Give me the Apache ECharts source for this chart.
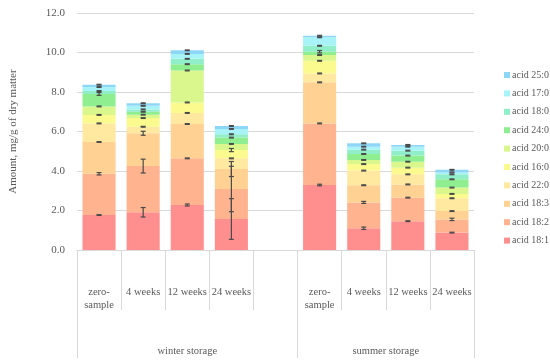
<!DOCTYPE html>
<html><head><meta charset="utf-8">
<script src="https://cdn.jsdelivr.net/npm/echarts@6/dist/echarts.min.js"></script>
<style>html,body{margin:0;padding:0;background:#fff}#c{width:550px;height:363px}</style>
</head><body><div id="c"></div>
<script>
// categories (index 4 is the empty spacer between the two storage groups)
const categories = ['zero-\nsample', '4 weeks', '12 weeks', '24 weeks', '', 'zero-\nsample', '4 weeks', '12 weeks', '24 weeks'];
const groupLabels = ['winter storage', 'summer storage'];
const yTicks = [0, 2, 4, 6, 8, 10, 12];

// series values (bottom to top of the stack), '-' = spacer
const acid18_1 = [1.77, 1.91, 2.28, 1.57, '-', 3.29, 1.10, 1.46, 0.88];
const acid18_2 = [2.09, 2.34, 2.36, 1.52, '-', 3.12, 1.31, 1.19, 0.67];
const acid18_3 = [1.61, 1.66, 1.74, 1.01, '-', 2.08, 0.87, 0.67, 0.42];
const acid22_0 = [0.94, 0.33, 0.56, 0.54, '-', 0.45, 0.74, 0.51, 0.65];
const acid16_0 = [0.43, 0.44, 0.53, 0.42, '-', 0.64, 0.33, 0.34, 0.22];
const acid20_0 = [0.43, 0.17, 1.62, 0.31, '-', 0.29, 0.21, 0.30, 0.32];
const acid24_0 = [0.63, 0.15, 0.32, 0.32, '-', 0.17, 0.30, 0.31, 0.42];
const acid18_0 = [0.15, 0.12, 0.27, 0.17, '-', 0.30, 0.22, 0.25, 0.25];
const acid17_0 = [0.20, 0.18, 0.25, 0.27, '-', 0.43, 0.15, 0.20, 0.10];
const acid25_0 = [0.12, 0.13, 0.18, 0.15, '-', 0.08, 0.17, 0.09, 0.13];

// error bar half-widths at each stack top
const err18_1 = [0.02, 0.24, 0.05, 1.03, '-', 0.04, 0.06, 0.02, 0.02];
const err18_2 = [0.06, 0.35, 0.02, 1.15, '-', 0.02, 0.05, 0.02, 0.06];
const err18_3 = [0.02, 0.10, 0.02, 0.38, '-', 0.02, 0.02, 0.02, 0.02];
const err22_0 = [0.02, 0.02, 0.02, 0.02, '-', 0.02, 0.02, 0.02, 0.02];
const err16_0 = [0.02, 0.02, 0.02, 0.08, '-', 0.02, 0.02, 0.02, 0.02];
const err20_0 = [0.02, 0.02, 0.02, 0.02, '-', 0.02, 0.02, 0.02, 0.02];
const err24_0 = [0.07, 0.02, 0.02, 0.02, '-', 0.06, 0.02, 0.02, 0.02];
const err18_0 = [0.02, 0.02, 0.02, 0.02, '-', 0.02, 0.02, 0.02, 0.02];
const err17_0 = [0.02, 0.02, 0.02, 0.02, '-', 0.02, 0.02, 0.02, 0.02];
const err25_0 = [0.02, 0.02, 0.02, 0.02, '-', 0.02, 0.02, 0.02, 0.02];

const seriesDefs = [
  {name: 'acid 18:1', data: acid18_1, err: err18_1, color: '#FF8F8F'},
  {name: 'acid 18:2', data: acid18_2, err: err18_2, color: '#FFB38E'},
  {name: 'acid 18:3', data: acid18_3, err: err18_3, color: '#FFD192'},
  {name: 'acid 22:0', data: acid22_0, err: err22_0, color: '#FFE8A0'},
  {name: 'acid 16:0', data: acid16_0, err: err16_0, color: '#FAFA8E'},
  {name: 'acid 20:0', data: acid20_0, err: err20_0, color: '#DAF78E'},
  {name: 'acid 24:0', data: acid24_0, err: err24_0, color: '#8FEE90'},
  {name: 'acid 18:0', data: acid18_0, err: err18_0, color: '#90EEC8'},
  {name: 'acid 17:0', data: acid17_0, err: err17_0, color: '#A8F3F8'},
  {name: 'acid 25:0', data: acid25_0, err: err25_0, color: '#8ED6F6'}
];

// error bar points at cumulative stack tops
const errData = [];
const cum = categories.map(() => 0);
seriesDefs.forEach(s => {
  s.data.forEach((v, i) => {
    if (v === '-') return;
    cum[i] += v;
    errData.push([i, +cum[i].toFixed(3), s.err[i]]);
  });
});

const font = 'Liberation Serif';
const txt = '#595959';
const grid = '#d9d9d9';

const series = seriesDefs.map(s => ({
  name: s.name, type: 'bar', stack: 'total', data: s.data,
  barCategoryGap: '25%', itemStyle: {color: s.color}, z: 2
}));
series.push({
  type: 'custom', name: 'err', data: errData, z: 10, silent: true,
  xAxisIndex: 0, yAxisIndex: 0,
  encode: {x: 0, y: 1},
  renderItem: (params, api) => {
    const x = api.value(0), y = api.value(1), e = api.value(2);
    const hi = api.coord([x, y + e]);
    const lo = api.coord([x, y - e]);
    const hw = 2.5;
    const st = {stroke: '#4a4a4a', lineWidth: 1.2};
    return {type: 'group', children: [
      {type: 'line', shape: {x1: hi[0], y1: hi[1], x2: lo[0], y2: lo[1]}, style: st},
      {type: 'line', shape: {x1: hi[0] - hw, y1: hi[1], x2: hi[0] + hw, y2: hi[1]}, style: st},
      {type: 'line', shape: {x1: lo[0] - hw, y1: lo[1], x2: lo[0] + hw, y2: lo[1]}, style: st}
    ]};
  }
});

const chart = echarts.init(document.getElementById('c'), null, {renderer: 'canvas'});
chart.setOption({
  animation: false,
  backgroundColor: '#fff',
  textStyle: {fontFamily: font},
  grid: {left: 75, right: 76, top: 13, bottom: 113, containLabel: false},
  legend: {
    orient: 'vertical', left: 499, top: 64,
    data: seriesDefs.map(s => s.name).reverse(),
    itemWidth: 6, itemHeight: 6, itemGap: 6.4, icon: 'rect',
    textStyle: {fontFamily: font, fontSize: 10, color: txt, padding: [0, 0, 0, -3], lineHeight: 12}
  },
  xAxis: [{
    type: 'category', data: categories, position: 'bottom',
    axisLine: {show: true, lineStyle: {color: grid}},
    axisTick: {show: true, interval: 0, length: 60, lineStyle: {color: grid}},
    axisLabel: {interval: 0, margin: 36, fontFamily: font, fontSize: 10.5, color: txt, lineHeight: 12.5, verticalAlign: 'top'}
  }, {
    type: 'value', min: 0, max: 9, position: 'bottom', gridIndex: 0,
    axisLine: {show: false}, splitLine: {show: false},
    axisTick: {show: true, customValues: [0, 5, 9], length: 108, lineStyle: {color: grid}},
    axisLabel: {show: true, customValues: [2.5, 7], margin: 96, fontFamily: font, fontSize: 10.5, color: txt,
      formatter: v => (v < 5 ? groupLabels[0] : groupLabels[1])}
  }],
  yAxis: {
    type: 'value', min: yTicks[0], max: yTicks[yTicks.length - 1], interval: 2,
    name: 'Amount, mg/g of dry matter', nameLocation: 'middle', nameGap: 58,
    nameTextStyle: {fontFamily: font, fontSize: 11, color: txt},
    axisLine: {show: false}, axisTick: {show: false},
    axisLabel: {formatter: v => v.toFixed(1), margin: 12, fontFamily: font, fontSize: 11, color: txt},
    splitLine: {lineStyle: {color: grid}}
  },
  series: series
});
</script>
</body></html>
